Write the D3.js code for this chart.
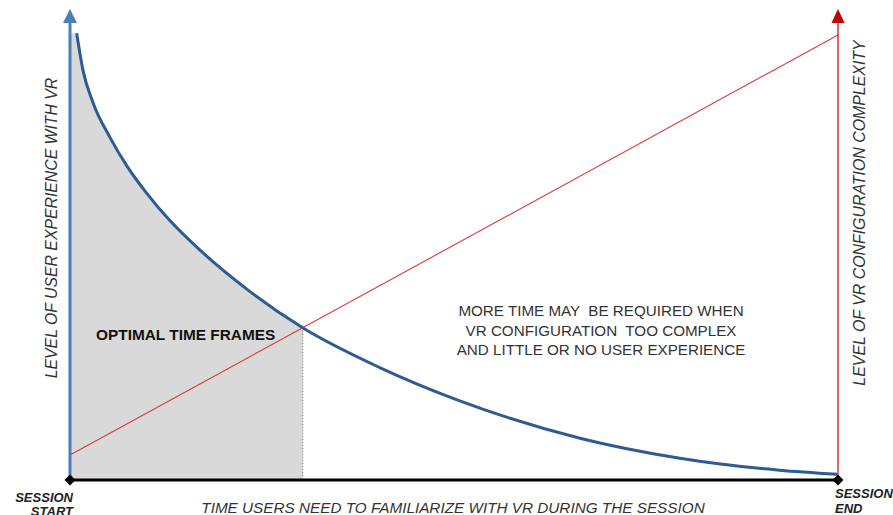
<!DOCTYPE html>
<html>
<head>
<meta charset="utf-8">
<script src="https://cdn.jsdelivr.net/npm/d3@7"></script>
<style>
  body { margin: 0; background: #fff; }
  svg { display: block; font-family: "Liberation Sans", Arial, sans-serif; }
</style>
</head>
<body>
<svg width="893" height="515"></svg>
<script>
// time in % of session, level in % of max
const expTime  = [0.87, 1.7, 3.0, 5.2, 7.4, 10.0, 13.0, 16.9, 23.4, 30.3, 40.4, 50.4, 66.4, 79.4, 92.4, 99.9];
const expLevel = [100.4, 92.0, 84.8, 77.0, 70.6, 64.4, 58.3, 51.7, 42.4, 34.2, 25.2, 18.0, 9.4, 4.9, 2.2, 1.3];
const cplxTime  = [0, 100];
const cplxLevel = [5.6, 100];
const optimalEnd = 30.3;
const noteLines = ["MORE TIME MAY  BE REQUIRED WHEN", "VR CONFIGURATION  TOO COMPLEX", "AND LITTLE OR NO USER EXPERIENCE"];

const svg = d3.select('svg');
const x = d3.scaleLinear().domain([0, 100]).range([70, 838]);
const y = d3.scaleLinear().domain([0, 100]).range([480, 35]);

let expData = expTime.map((t, i) => ({t: t, v: expLevel[i]}));
let cplxData = cplxTime.map((t, i) => ({t: t, v: cplxLevel[i]}));

// shaded optimal region
let areaData = [{t: 0, v: expLevel[0]}].concat(expData.filter(d => d.t <= optimalEnd));
svg.append('path')
    .datum(areaData)
    .attr('fill', '#d9d9d9')
    .attr('d', d3.area().x(d => x(d.t)).y0(y(0)).y1(d => y(d.v)).curve(d3.curveMonotoneX));

svg.append('line')
    .attr('x1', x(optimalEnd)).attr('x2', x(optimalEnd))
    .attr('y1', y(34.2)).attr('y2', y(0) - 2)
    .attr('stroke', '#999').attr('stroke-width', 1.2).attr('stroke-dasharray', '1.5,1.5');

// red complexity line
svg.append('path')
    .datum(cplxData)
    .attr('fill', 'none')
    .attr('stroke', '#dc3a3f').attr('stroke-width', 1.1)
    .attr('d', d3.line().x(d => x(d.t)).y(d => y(d.v)));

// blue experience curve
svg.append('path')
    .datum(expData)
    .attr('fill', 'none')
    .attr('stroke', '#2f5b93').attr('stroke-width', 3)
    .attr('d', d3.line().x(d => x(d.t)).y(d => y(d.v)).curve(d3.curveMonotoneX));

// axes
let axisTop = 22, tip = 9;
svg.append('line')
    .attr('x1', x(0)).attr('x2', x(0)).attr('y1', y(0)).attr('y2', axisTop)
    .attr('stroke', '#4a7ebb').attr('stroke-width', 3);
svg.append('path')
    .attr('d', `M${x(0)},${tip}L${x(0)+7},${axisTop+1}L${x(0)-7},${axisTop+1}Z`)
    .attr('fill', '#4a7ebb');

svg.append('line')
    .attr('x1', x(100)).attr('x2', x(100)).attr('y1', y(0)).attr('y2', axisTop)
    .attr('stroke', '#d0101a').attr('stroke-width', 1.3);
svg.append('path')
    .attr('d', `M${x(100)},${tip}L${x(100)+6.5},${axisTop+1}L${x(100)-6.5},${axisTop+1}Z`)
    .attr('fill', '#c00000');

svg.append('line')
    .attr('x1', x(0)).attr('x2', x(100)).attr('y1', y(0)).attr('y2', y(0))
    .attr('stroke', '#000').attr('stroke-width', 3);

[0, 100].forEach(t => {
    svg.append('path')
        .attr('d', `M${x(t)},${y(0)-5.5}L${x(t)+5.5},${y(0)}L${x(t)},${y(0)+5.5}L${x(t)-5.5},${y(0)}Z`)
        .attr('fill', '#000');
});

// labels
svg.append('text')
    .attr('transform', `translate(57,228) rotate(-90)`)
    .attr('text-anchor', 'middle')
    .style('font-size', '15.8px').style('font-style', 'italic').attr('fill', '#333')
    .text('LEVEL OF USER EXPERIENCE WITH VR');

svg.append('text')
    .attr('transform', `translate(865,213) rotate(-90)`)
    .attr('text-anchor', 'middle')
    .style('font-size', '15.9px').style('font-style', 'italic').attr('fill', '#333')
    .text('LEVEL OF VR CONFIGURATION COMPLEXITY');

svg.append('text')
    .attr('x', 453).attr('y', 513)
    .attr('text-anchor', 'middle')
    .style('font-size', '15.3px').style('font-style', 'italic').attr('fill', '#333')
    .text('TIME USERS NEED TO FAMILIARIZE WITH VR DURING THE SESSION');

let startLbl = svg.append('text')
    .attr('text-anchor', 'end')
    .style('font-size', '13px').style('font-style', 'italic').style('font-weight', 'bold').attr('fill', '#222');
startLbl.append('tspan').attr('x', 73).attr('y', 502).text('SESSION');
startLbl.append('tspan').attr('x', 73).attr('y', 516).text('START');

let endLbl = svg.append('text')
    .style('font-size', '13px').style('font-style', 'italic').style('font-weight', 'bold').attr('fill', '#222');
endLbl.append('tspan').attr('x', 835).attr('y', 498).text('SESSION');
endLbl.append('tspan').attr('x', 835).attr('y', 513).text('END');

svg.append('text')
    .attr('x', 96).attr('y', 340)
    .style('font-size', '15.4px').style('font-weight', 'bold').attr('fill', '#111')
    .text('OPTIMAL TIME FRAMES');

svg.append('text')
    .attr('text-anchor', 'middle')
    .style('font-size', '15.2px').attr('fill', '#333')
    .selectAll('tspan')
    .data(noteLines)
    .enter()
    .append('tspan')
    .attr('x', 601)
    .attr('y', (d, i) => 316 + i * 19.5)
    .attr('xml:space', 'preserve')
    .style('white-space', 'pre')
    .text(d => d);
</script>
</body>
</html>
